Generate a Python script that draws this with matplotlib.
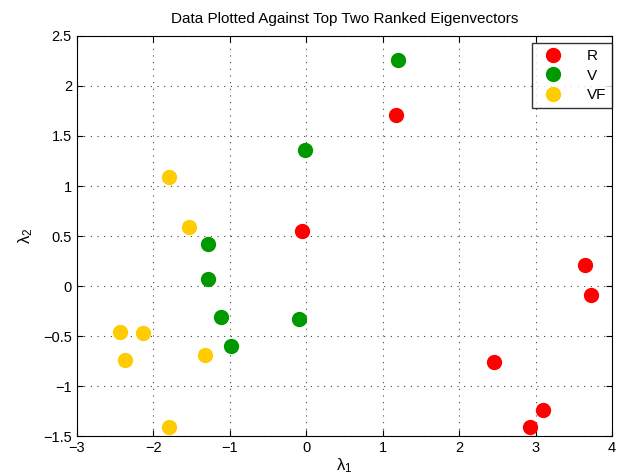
import matplotlib
matplotlib.use("Agg")
import matplotlib.pyplot as plt

plt.rcParams['font.family'] = ['Liberation Sans', 'DejaVu Sans']
plt.rcParams['mathtext.fontset'] = 'custom'
plt.rcParams['mathtext.rm'] = 'Liberation Sans'
plt.rcParams['mathtext.it'] = 'Liberation Sans'

# data
r_x = [1.17, -0.05, 3.65, 3.72, 2.45, 3.10, 2.93]
r_y = [1.71, 0.55, 0.21, -0.09, -0.76, -1.24, -1.41]
v_x = [1.20, -0.01, -1.28, -1.28, -1.11, -0.98, -0.10]
v_y = [2.26, 1.36, 0.42, 0.07, -0.31, -0.60, -0.33]
vf_x = [-1.79, -1.53, -2.44, -2.14, -2.37, -1.32, -1.80]
vf_y = [1.09, 0.59, -0.46, -0.47, -0.74, -0.69, -1.41]

fig = plt.figure(figsize=(6.24, 4.73), dpi=100)
ax = fig.add_axes([0.123, 0.078, 0.858, 0.846])

ax.plot(r_x, r_y, 'o', color='#ff0000', markersize=10, label='R')
ax.plot(v_x, v_y, 'o', color='#009900', markersize=10, label='V')
ax.plot(vf_x, vf_y, 'o', color='#ffcc00', markersize=10, label='VF')

ax.set_xlim(-3, 4)
ax.set_ylim(-1.5, 2.5)
ax.set_xticks(range(-3, 5))
ax.set_yticks([-1.5, -1, -0.5, 0, 0.5, 1, 1.5, 2, 2.5])
ax.set_xticklabels(['\u22123', '\u22122', '\u22121', '0', '1', '2', '3', '4'])
ax.set_yticklabels(['\u22121.5', '\u22121', '\u22120.5', '0', '0.5', '1', '1.5', '2', '2.5'])
ax.tick_params(direction='in', top=True, right=True, labelsize=10.5, length=4)
ax.grid(True, linestyle=(0, (1, 5)), color='#444444', linewidth=0.8)

ax.set_title('Data Plotted Against Top Two Ranked Eigenvectors', fontsize=11, pad=9)
ax.set_xlabel(r'$\lambda_1$', fontsize=12, labelpad=1)
ax.set_ylabel(r'$\lambda_2$', fontsize=12, labelpad=6)

leg = ax.legend(loc='upper right', bbox_to_anchor=(1.0, 0.982), borderaxespad=0,
                fancybox=False, edgecolor='black', fontsize=11,
                handletextpad=1.2, labelspacing=0.35, numpoints=1)
leg.get_frame().set_linewidth(1.0)

fig.savefig('out.png', dpi=100)
